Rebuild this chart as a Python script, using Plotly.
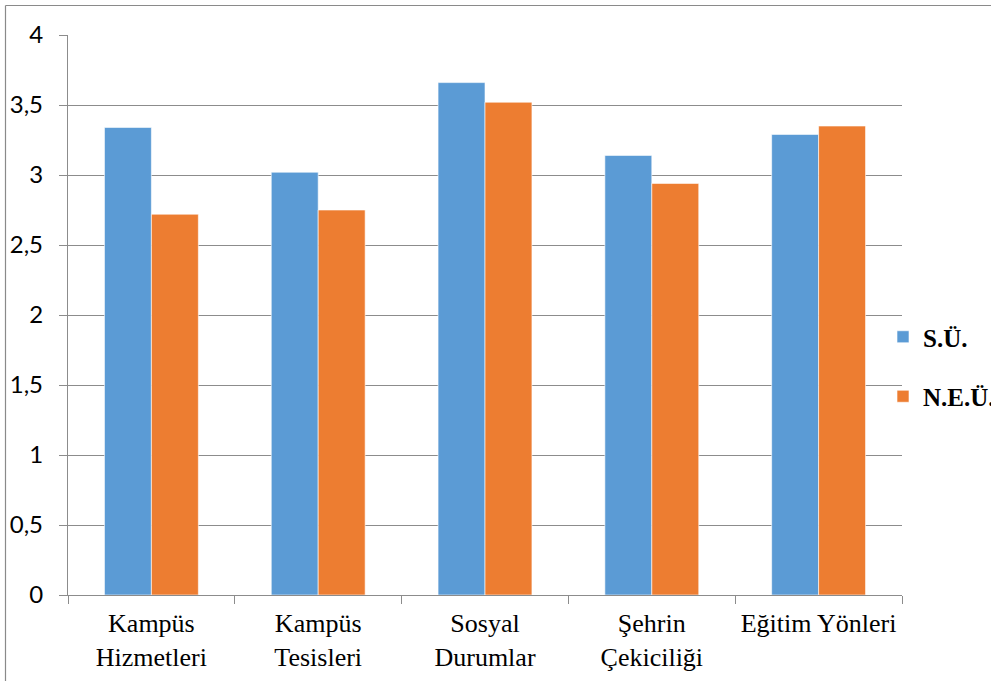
import plotly.graph_objects as go

# Survey dimensions and mean scores for the two universities
categories = ["Kampüs<br>Hizmetleri", "Kampüs<br>Tesisleri", "Sosyal<br>Durumlar",
              "Şehrin<br>Çekiciliği", "Eğitim Yönleri"]
su_values = [3.34, 3.02, 3.66, 3.14, 3.29]
neu_values = [2.72, 2.75, 3.52, 2.94, 3.35]
y_ticks = [0, 0.5, 1, 1.5, 2, 2.5, 3, 3.5, 4]
y_tick_labels = ["0", "0,5", "1", "1,5", "2", "2,5", "3", "3,5", "4"]

BLUE = "#5B9BD5"
ORANGE = "#ED7D31"
GRID = "#8c8c8c"

fig = go.Figure()
fig.add_trace(go.Bar(x=categories, y=su_values, name="<b>S.Ü.</b>", legendgroup="a",
                     marker=dict(color=BLUE, line=dict(color="rgba(255,255,255,0.6)", width=1))))
fig.add_trace(go.Bar(x=categories, y=neu_values, name="<b>N.E.Ü.</b>", legendgroup="b",
                     marker=dict(color=ORANGE, line=dict(color="rgba(255,255,255,0.6)", width=1))))

W, H = 991, 681
L, R, T, B = 68, 89, 35, 86
pw, ph = W - L - R, H - T - B

def px_x(p):
    return (p - L) / pw

def px_y(p):
    return (H - B - p) / ph

fig.update_layout(
    width=W, height=H,
    margin=dict(l=L, r=R, t=T, b=B, autoexpand=False),
    paper_bgcolor="white", plot_bgcolor="white",
    barmode="group", bargap=0.437, bargroupgap=0,
    showlegend=True,
    legend=dict(x=px_x(883), y=px_y(314), xanchor="left", yanchor="top",
                font=dict(family="Liberation Serif", size=25, color="black"),
                tracegroupgap=24, traceorder="grouped", itemwidth=30,
                bgcolor="rgba(0,0,0,0)"),
    xaxis=dict(type="category", showgrid=False, showline=True, linecolor=GRID, linewidth=1.3,
               ticks="outside", ticklen=8, tickcolor=GRID, tickwidth=1.3, tickson="boundaries",
               tickfont=dict(family="Liberation Serif", size=26, color="black"),
               ticklabelstandoff=5),
    yaxis=dict(range=[0, 4], tickvals=y_ticks, ticktext=y_tick_labels,
               showgrid=True, gridcolor=GRID, gridwidth=1.3,
               showline=True, linecolor=GRID, linewidth=1.3,
               ticks="outside", ticklen=8, tickcolor=GRID, tickwidth=1.3,
               tickfont=dict(family="Lato", size=24, color="black"),
               ticklabelstandoff=11, zeroline=False),
)

# Frame lines of the surrounding chart box
frame = dict(type="line", xref="paper", yref="paper", line=dict(color="#8a8a8a", width=1.2))
fig.add_shape(**frame, x0=px_x(5.5), x1=px_x(5.5), y0=px_y(5.5), y1=px_y(H + 5))
fig.add_shape(**frame, x0=px_x(5.5), x1=px_x(W + 5), y0=px_y(5.5), y1=px_y(5.5))

fig.write_html("out.html")
